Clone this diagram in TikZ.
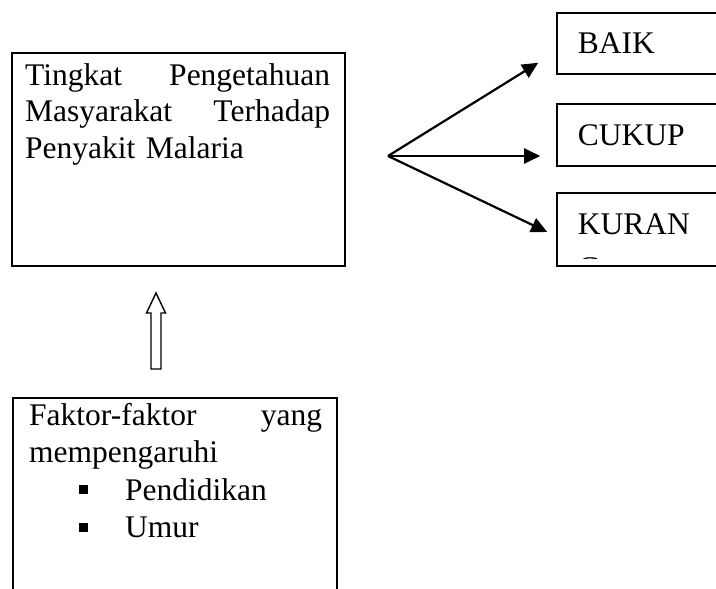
\documentclass[tikz,border=0pt]{standalone}
\usepackage{fontspec}
\setmainfont{Liberation Serif}
\usetikzlibrary{
  arrows.meta,
  positioning,
  calc
}
\newcommand{\sqitem}[1]{\hspace*{50pt}\makebox[46pt][l]{\rule[6pt]{9pt}{9pt}}#1}
\tikzset{
  every picture/.style={line join=miter},
  every node/.style={font=\fontsize{31.5pt}{36.5pt}\selectfont, text=black},
  bigbox/.style={draw, line width=2.6pt, inner sep=0pt},
  catbox/.style={draw, line width=1.6pt, inner sep=0pt, minimum width=183pt},
  boxtext/.style={inner sep=0pt, align=left},
  arrow/.style={-{Triangle[length=16pt,width=15pt]}, line width=2.2pt},
  hollow/.style={draw, line width=1.4pt, fill=white}
}

\begin{document}
\begin{tikzpicture}[x=1pt,y=-1pt]
  \clip (0,0) rectangle (716,589);

  % Boxes
  \node[bigbox, minimum width=333pt, minimum height=213pt] (tingkat) at (178.5,159.5) {};
  \node[bigbox, minimum width=324pt, minimum height=220pt] (faktor) at (175,508) {};
  \node[catbox, minimum height=61pt] (baik) at (648.5,43.5) {};
  \node[catbox, minimum height=62pt] (cukup) at (648.5,135) {};
  \node[catbox, minimum height=73pt] (kurang) at (648.5,229.5) {};

  % Texts
  \node[boxtext, text width=305pt, anchor=base west] (tingkattext)
    at ($(tingkat.north west)+(14.3,33.3)$)
    {Tingkat\hspace{\fill}Pengetahuan\\Masyarakat\hspace{\fill}Terhadap\\Penyakit Malaria};
  \node[boxtext, text width=293pt, anchor=base west, font=\fontsize{31.5pt}{37.5pt}\selectfont] (faktortext)
    at ($(faktor.north west)+(17.3,28.3)$)
    {Faktor-faktor\hspace{\fill}yang\\mempengaruhi\\\sqitem{Pendidikan}\\\sqitem{Umur}};
  \node[boxtext, anchor=base west] (baiktext) at ($(baik.north west)+(21.5,40.8)$) {BAIK};
  \node[boxtext, anchor=base west] (cukuptext) at ($(cukup.north west)+(21.5,42.5)$) {CUKUP};
  \begin{scope}
    \clip (kurang.north west) rectangle ($(kurang.south east)+(0,-8)$);
    \node[boxtext, text width=150pt, anchor=base west] (kurangtext)
      at ($(kurang.north west)+(21.5,42.5)$) {KURAN\\[7pt]G};
  \end{scope}

  % Arrows
  \coordinate (naik) at (156,331);
  \draw[hollow] ($(naik)+(-5,38)$) -- ($(naik)+(-5,-18)$) -- ($(naik)+(-9.5,-18)$)
    -- ($(naik)+(0,-38)$) -- ($(naik)+(9.5,-18)$) -- ($(naik)+(5,-18)$)
    -- ($(naik)+(5,38)$) -- cycle;
  \coordinate (fork) at (388,156);
  \coordinate (tobaik) at ($(baik.south west)+(-18,-12)$);
  \coordinate (tocukup) at ($(cukup.west)+(-16,21)$);
  \coordinate (tokurang) at ($(kurang.west)+(-9,2.5)$);
  \draw[arrow] (fork) -- (tobaik);
  \draw[arrow] (fork) -- (tocukup);
  \draw[arrow] (fork) -- (tokurang);
\end{tikzpicture}
\end{document}
